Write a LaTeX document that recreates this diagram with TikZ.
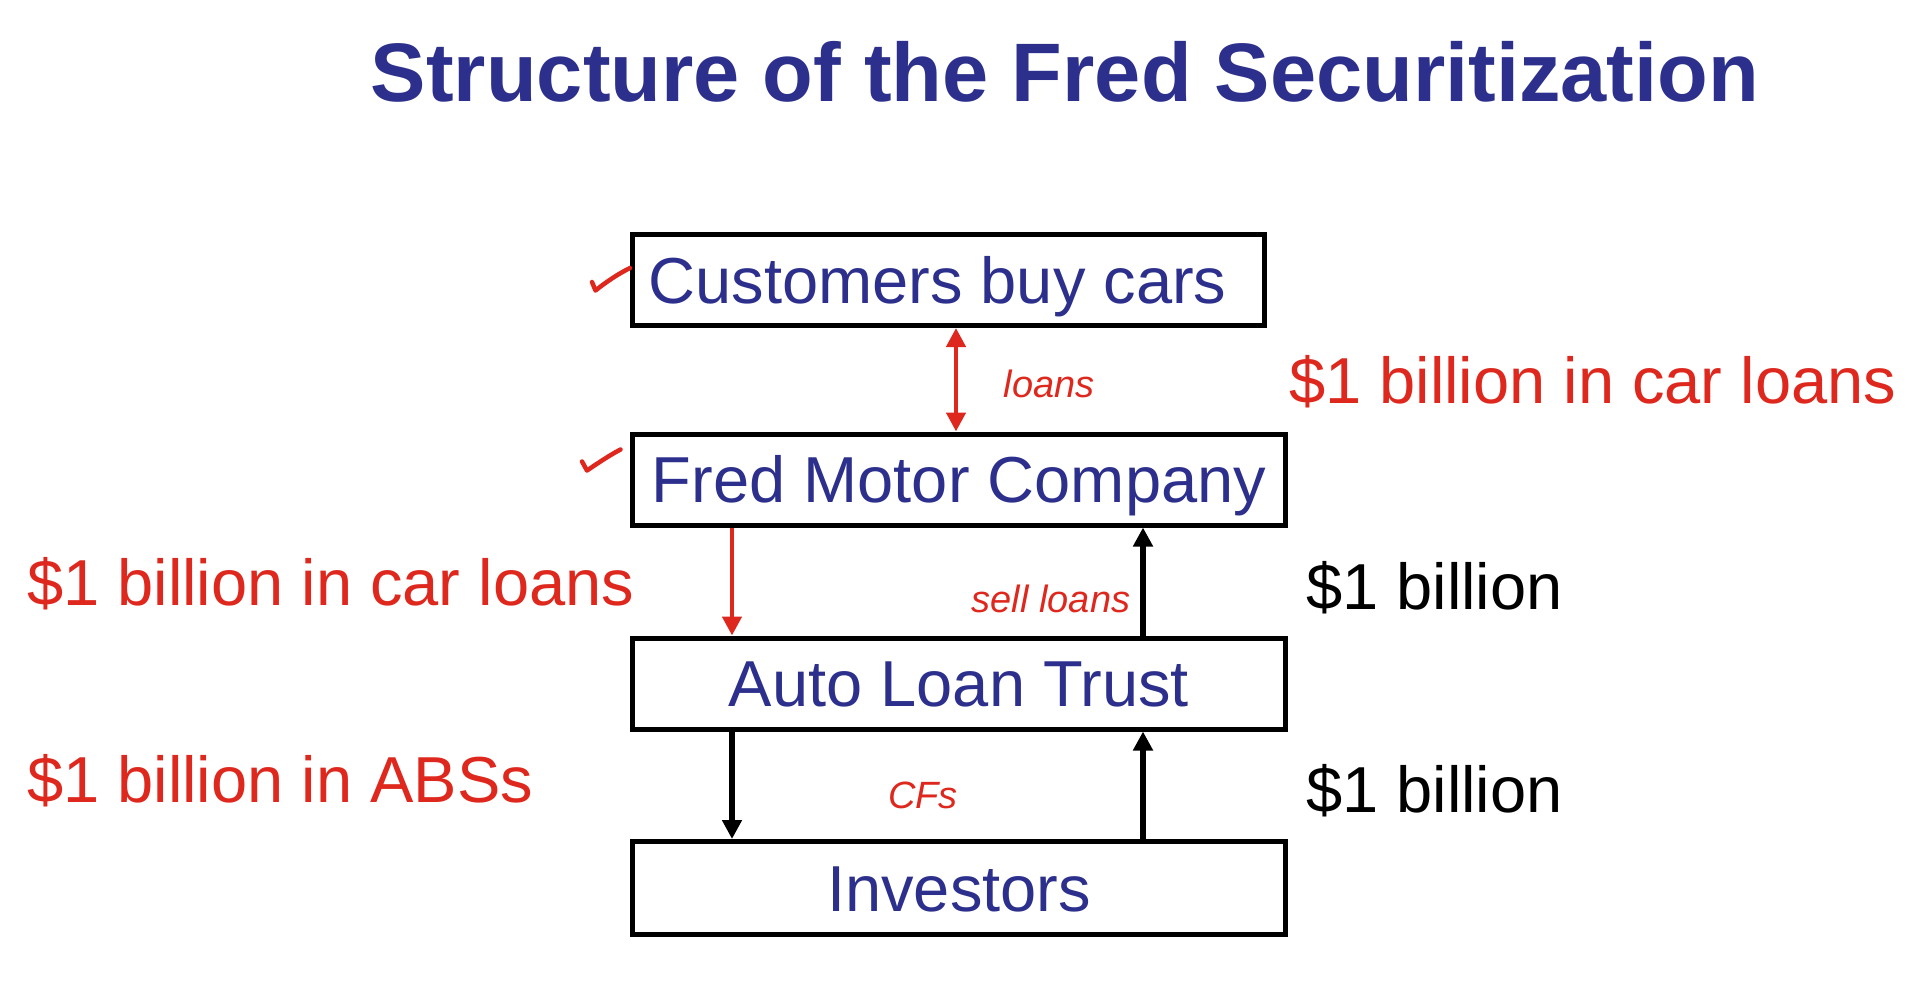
\documentclass[tikz,border=0pt]{standalone}
\usepackage{fontspec}
\setmainfont{Liberation Sans}
\usetikzlibrary{arrows.meta}
\definecolor{navy}{RGB}{44,48,140}
\definecolor{inkred}{RGB}{222,40,30}

\begin{document}
\begin{tikzpicture}[x=1pt,y=-1pt,
  box/.style={draw=black, line width=5pt, minimum height=91pt, inner sep=0pt,
    text=navy, font=\fontsize{65}{70}\selectfont, text height=46.5pt, text depth=0pt},
  label/.style={anchor=base west, font=\fontsize{65}{70}\selectfont, inner sep=0pt},
  hand/.style={anchor=base, text=inkred, font=\itshape\fontsize{38}{40}\selectfont, inner sep=0pt},
  tip/.style={Triangle[length=19pt,width=19pt]},
  flow/.style={line width=5.5pt, -{Triangle[length=19pt,width=19pt]}},
  redflow/.style={draw=inkred, line width=4.5pt, -{Triangle[length=19pt,width=19pt]}},
  tick/.style={draw=inkred, line width=4.5pt, line cap=round, line join=round}
]
\useasboundingbox (0,0) rectangle (1914,980);

% title
\node[anchor=base, font=\bfseries\fontsize{83}{90}\selectfont, text=navy, inner sep=0pt]
  (title) at (1065,101) {Structure of the Fred Securitization};

% the four parties
\node[box, minimum width=632pt] (cust) at (948.5,280) {\hspace*{-22pt}Customers buy cars};
\node[box, minimum width=653pt] (fmc)  at (959,479.5) {Fred Motor Company};
\node[box, minimum width=653pt] (trust) at (959,683.5) {Auto Loan Trust};
\node[box, minimum width=653pt, minimum height=93pt] (inv) at (959,888) {Investors};

% columns for the connectors
\coordinate (xm) at (956,0);
\coordinate (xl) at (732,0);
\coordinate (xr) at (1143,0);

% connectors
\draw[redflow, {Triangle[length=19pt,width=19pt]}-{Triangle[length=19pt,width=19pt]}]
  (cust.south -| xm) -- (fmc.north -| xm);
\draw[redflow] (fmc.south -| xl) -- (trust.north -| xl);
\draw[flow] (trust.north -| xr) -- (fmc.south -| xr);
\draw[flow] (trust.south -| xl) -- (inv.north -| xl);
\draw[flow] (inv.north -| xr) -- (trust.south -| xr);

% printed amounts
\node[label, text=inkred] (lblA) at (1289,403) {\$1 billion in car loans};
\node[label, text=inkred] (lblB) at (27,605) {\$1 billion in car loans};
\node[label, text=inkred] (lblC) at (27,802) {\$1 billion in ABSs};
\node[label, text=black] (lblD) at (1306,609) {\$1 billion};
\node[label, text=black] (lblE) at (1306,812) {\$1 billion};

% handwritten notes
\node[hand] (nLoans) at (1049,397) {loans};
\node[hand] (nSell) at (1051,612) {sell loans};
\node[hand] (nCFs) at (923,808) {CFs};

% check marks
\draw[tick] (592,282) -- (595.5,290.5) .. controls (606,282) and (618,274) .. (630,268);
\draw[tick] (582,461.5) -- (587,470.5) .. controls (598,463) and (610,455) .. (620.5,449.5);
\end{tikzpicture}
\end{document}
